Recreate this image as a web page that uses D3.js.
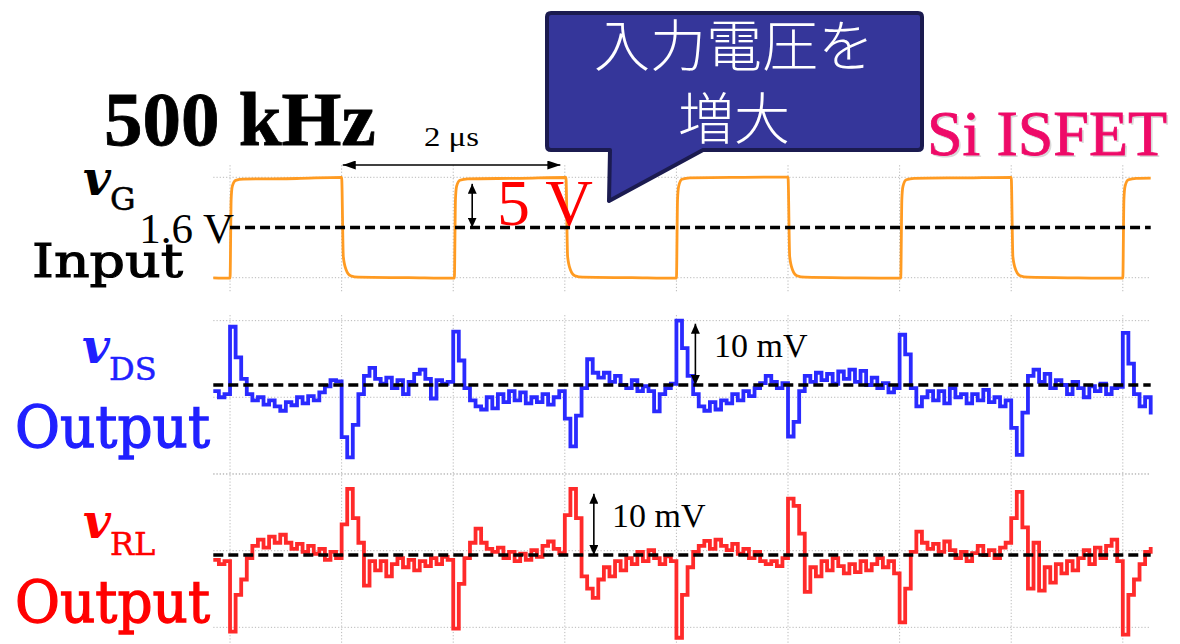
<!DOCTYPE html>
<html><head><meta charset="utf-8">
<script src="https://cdn.jsdelivr.net/npm/d3@7/dist/d3.min.js"></script>
<style>
html,body{margin:0;padding:0;background:#fff;overflow:hidden}
svg{display:block}
</style></head><body>
<svg id="chart" width="1180" height="644"></svg>
<script>
// ===== data (time in µs, 1 µs per oscilloscope division) =====
const gridTimes = [0, 1, 2, 3, 4, 5, 6, 7, 8];
const sampleStart = -0.15;   // µs, first sample of the output traces
const sampleStep = 0.05;     // µs between samples

// input gate voltage vG (V)
const vgTimes = [-0.15, 0.00, 0.01, 0.02, 0.05, 0.12, 0.60, 1.00, 1.015, 1.04, 1.08, 1.15, 1.60,
  2.01, 2.02, 2.03, 2.06, 2.13, 2.60, 3.01, 3.025, 3.05, 3.09, 3.16, 3.60,
  4.00, 4.01, 4.02, 4.05, 4.12, 4.60, 5.00, 5.015, 5.04, 5.08, 5.15, 5.60,
  6.01, 6.02, 6.03, 6.06, 6.13, 6.60, 7.00, 7.015, 7.04, 7.08, 7.15, 7.60,
  8.00, 8.01, 8.02, 8.05, 8.12, 8.25];
const vgValues = [-3.42, -3.45, 4.4, 5.7, 6.3, 6.42, 6.48, 6.6, -1.3, -2.6, -3.2, -3.35, -3.4,
  -3.45, 4.4, 5.7, 6.3, 6.45, 6.5, 6.58, -1.3, -2.6, -3.2, -3.35, -3.4,
  -3.45, 4.4, 5.7, 6.4, 6.55, 6.6, 6.62, -1.3, -2.6, -3.2, -3.35, -3.42,
  -3.45, 4.4, 5.7, 6.35, 6.5, 6.55, 6.6, -1.3, -2.6, -3.2, -3.35, -3.42,
  -3.45, 4.4, 5.7, 6.35, 6.5, 6.52];

// output vDS (mV, relative to its DC level)
const vdsValues = [-1.0, -2.0, -1.5,
  9.5, 4.5, 1.0, -1.5, -2.5, -2.0, -3.2, -2.5, -3.5, -4.2, -2.8, -3.3, -2.0, -3.0, -1.8, -2.5, -1.2, -0.2, 0.8, 0.6,
  -8.5, -11.8, -6.5, -1.5, 1.5, 2.8, 1.0, 0.2, 1.2, -0.5, 0.8, -1.5, 0.5, 1.8, 2.5, 1.0, -2.2, 0.8, 0.2, 0.5,
  8.7, 4.0, -0.5, -2.5, -3.5, -4.0, -2.0, -3.8, -1.5, -2.8, -1.0, -2.5, -1.2, -3.0, -2.0, -2.8, -1.5, -3.2, -2.0, -1.0,
  -5.5, -10.0, -5.0, -0.5, 4.2, 2.0, 1.2, 2.0, 0.5, 1.5, 0.0, -0.5, 0.8, -1.0, -0.2, -1.0, -4.3, -1.5, -0.5, 0.2,
  10.5, 6.0, 1.5, -1.5, -3.5, -4.2, -2.8, -4.0, -2.5, -3.0, -1.5, -2.5, -1.0, -1.8, -0.5, 0.3, 1.5, 0.5, -0.5, 0.3,
  -8.4, -6.0, -1.0, 1.5, 0.5, 2.0, 0.8, 1.8, 0.2, 2.2, 1.0, 2.5, 0.5, 2.3, 0.0, 1.2, -0.5, 0.3, -1.2, -0.5,
  8.2, 5.0, -0.5, -3.5, -2.0, -1.0, -2.5, -1.0, -3.0, -0.5, -2.0, -1.5, -3.0, -1.5, -2.5, -0.8, -2.8, -2.0, -3.5, -2.5,
  -7.0, -11.4, -4.5, 1.5, 2.5, 0.5, 1.8, -0.5, 0.8, 0.0, -1.5, 0.5, -0.5, -2.0, -0.2, -1.0, 0.2, -1.5, -0.5, -0.3,
  8.5, 3.5, -1.5, -3.5, -2.0, -4.8];

// output vRL (mV, relative to its DC level)
const vrlValues = [-0.8, -1.5, -1.0,
  -12.5, -6.5, -4.0, -0.5, 1.5, 2.5, 1.2, 3.0, 2.0, 3.3, 2.0, 1.0, 1.8, 0.5, 1.5, 0.2, 1.0, -0.8, 0.5, -0.5,
  5.0, 10.8, 6.0, 2.0, -5.0, -1.0, -2.5, -1.0, -3.5, -1.5, -0.5, -2.0, -0.8, -2.5, -1.0, -1.8, -0.5, -1.5, -0.3, -0.8,
  -12.0, -4.7, -0.5, 2.0, 4.3, 2.0, 1.0, 0.5, 1.2, -0.5, 0.5, -1.0, 0.2, -0.8, 0.8, -0.3, 1.5, 2.2, 1.0, 0.3,
  6.5, 10.8, 6.0, -3.5, -5.5, -7.0, -4.0, -2.0, -3.5, -1.0, -2.5, -0.5, -1.5, 0.5, -1.0, 0.8, -0.5, -1.5, -0.2, -1.0,
  -13.5, -6.5, -2.0, 0.5, 1.5, 2.3, 1.0, 2.5, 1.5, 0.8, 1.8, 0.2, 1.0, -0.5, 0.5, -1.0, -1.5, -1.0, -1.8, -0.5,
  9.2, 8.0, 3.5, -6.0, -2.0, -3.5, -1.0, -2.5, -0.5, -1.8, -3.0, -1.5, -2.8, -1.0, -2.5, -1.5, -0.5, -2.0, -1.0, -3.0,
  -11.0, -5.5, 0.5, 3.8, 2.0, 1.0, 1.8, 0.5, 2.2, 0.8, -0.5, 0.5, -1.0, 0.3, 1.5, 0.0, 0.8, -0.5, 1.2, 2.0,
  6.0, 10.3, 4.5, -5.5, 2.0, -5.8, -2.0, -4.5, -1.5, -3.0, -1.0, -2.5, -0.5, 0.8, -1.5, 1.2, -0.5, 1.5, 2.5, -1.0,
  -13.0, -6.5, -4.0, -1.5, 0.5, 1.3];

// reference levels and grid levels
const vgRef = 1.6;               // V
const vgGrid = [-3.4, 6.6];      // V
const dsGrid = [10.5, -2.0, -14.5]; // mV
const rlGrid = [13.2, 0.7, -11.8];  // mV

// ===== scales =====
const svg = d3.select("#chart");
const x = d3.scaleLinear().domain([-0.15, 8.25]).range([213.3, 1150.7]);
const yG = d3.scaleLinear().domain([-3.4, 6.6]).range([277.7, 177.3]);
const yDS = d3.scaleLinear().domain([0, 10]).range([385, 323.7]);
const yRL = d3.scaleLinear().domain([0, 10]).range([555, 493.7]);

const sampT = i => sampleStart + i * sampleStep;
const vg = vgTimes.map((t, i) => ({t, v: vgValues[i]}));
const ds = vdsValues.map((v, i) => ({t: sampT(i), v}));
const rl = vrlValues.map((v, i) => ({t: sampT(i), v}));

// ===== defs =====
const defs = svg.append("defs");
function marker(id, w, h) {
  defs.append("marker").attr("id", id).attr("viewBox", `0 0 ${w} ${h}`)
    .attr("refX", w).attr("refY", h / 2).attr("markerWidth", w).attr("markerHeight", h)
    .attr("markerUnits", "userSpaceOnUse").attr("orient", "auto-start-reverse")
    .append("path").attr("d", `M0,0 L${w},${h/2} L0,${h} Z`).attr("fill", "#000");
}
marker("ahH", 13, 9);
marker("ahV", 10, 9);

// ===== grids =====
const gridG = svg.append("g").attr("stroke", "#b8b8b8").attr("stroke-width", 1).attr("stroke-dasharray", "1.2,2");
gridG.selectAll(".vt").data(gridTimes).join("line")
  .attr("x1", d => x(d)).attr("x2", d => x(d)).attr("y1", yG(7.8)).attr("y2", yG(-4.85));
gridG.selectAll(".vb").data(gridTimes).join("line")
  .attr("x1", d => x(d)).attr("x2", d => x(d)).attr("y1", yDS(11.4)).attr("y2", 644);
gridG.selectAll(".hg").data(vgGrid).join("line")
  .attr("x1", x(-0.15)).attr("x2", x(8.25)).attr("y1", d => yG(d)).attr("y2", d => yG(d));
gridG.selectAll(".hd").data(dsGrid).join("line")
  .attr("x1", x(-0.15)).attr("x2", x(8.25)).attr("y1", d => yDS(d)).attr("y2", d => yDS(d));
gridG.selectAll(".hr").data(rlGrid).join("line")
  .attr("x1", x(-0.15)).attr("x2", x(8.25)).attr("y1", d => yRL(d)).attr("y2", d => yRL(d));

// ===== traces =====
svg.append("path").datum(vg)
  .attr("d", d3.line().x(d => x(d.t)).y(d => yG(d.v)).curve(d3.curveMonotoneX))
  .attr("fill", "none").attr("stroke", "#ff9b22").attr("stroke-width", 2.8);
svg.append("path").datum(ds)
  .attr("d", d3.line().x(d => x(d.t)).y(d => yDS(d.v)).curve(d3.curveStepAfter))
  .attr("fill", "none").attr("stroke", "#2a2aff").attr("stroke-width", 3.8);
svg.append("path").datum(rl)
  .attr("d", d3.line().x(d => x(d.t)).y(d => yRL(d.v)).curve(d3.curveStepAfter))
  .attr("fill", "none").attr("stroke", "#ff2a2a").attr("stroke-width", 3.8);

// ===== dashed reference lines =====
const dash = svg.append("g").attr("stroke", "#000").attr("stroke-width", 3.6).attr("stroke-dasharray", "10,5");
dash.append("line").attr("x1", x(0)).attr("x2", x(8.25)).attr("y1", yG(vgRef)).attr("y2", yG(vgRef));
dash.append("line").attr("x1", x(-0.15)).attr("x2", x(8.25)).attr("y1", yDS(0)).attr("y2", yDS(0));
dash.append("line").attr("x1", x(-0.15)).attr("x2", x(8.25)).attr("y1", yRL(0)).attr("y2", yRL(0));

// ===== annotation arrows =====
const arr = svg.append("g").attr("stroke", "#000").attr("stroke-width", 1.6);
arr.append("line").attr("x1", x(1.01)).attr("x2", x(2.96)).attr("y1", 165).attr("y2", 165)
  .attr("marker-start", "url(#ahH)").attr("marker-end", "url(#ahH)");
arr.append("line").attr("x1", x(2.17)).attr("x2", x(2.17)).attr("y1", yG(vgRef)).attr("y2", yG(5.95))
  .attr("marker-start", "url(#ahV)").attr("marker-end", "url(#ahV)");
arr.append("line").attr("x1", x(4.17)).attr("x2", x(4.17)).attr("y1", yDS(0)).attr("y2", yDS(10))
  .attr("marker-start", "url(#ahV)").attr("marker-end", "url(#ahV)");
arr.append("line").attr("x1", x(3.26)).attr("x2", x(3.26)).attr("y1", yRL(0)).attr("y2", yRL(10))
  .attr("marker-start", "url(#ahV)").attr("marker-end", "url(#ahV)");

// ===== texts =====
const serif = "'Liberation Serif', 'Times New Roman', serif";
const cent = "'DejaVu Serif', serif";
function txt(s, xx, yy, o) {
  const t = svg.append("text").attr("x", xx).attr("y", yy).text(s)
    .attr("font-family", o.ff || serif).attr("font-size", o.fs).attr("fill", o.fill || "#000");
  if (o.fw) t.attr("font-weight", o.fw);
  if (o.st) t.attr("font-style", o.st);
  if (o.anchor) t.attr("text-anchor", o.anchor);
  if (o.len) t.attr("textLength", o.len).attr("lengthAdjust", "spacingAndGlyphs");
  if (o.sw) t.attr("stroke", o.fill || "#000").attr("stroke-width", o.sw);
  return t;
}
txt("500 kHz", 104, 145, {fs: 77, fw: "bold", sw: 0.8});
txt("2 μs", 424, 146, {fs: 28, len: 55});
txt("5 V", 497, 225, {fs: 66, fill: "#ff0000"});
txt("10 mV", 714, 357, {fs: 34});
txt("10 mV", 612, 527, {fs: 34});
txt("1.6 V", 234, 243, {fs: 43, anchor: "end"});

// Si ISFET with soft shadow
txt("Si ISFET", 929, 157, {fs: 64, fill: "#c9c9c9"}).attr("opacity", 0.7);
txt("Si ISFET", 927, 155, {fs: 64, fill: "#ee0a68", sw: 0.8});

// channel labels
txt("v", 83, 195, {ff: cent, fs: 48, fw: "bold", st: "italic"});
txt("G", 110, 210, {ff: cent, fs: 32, sw: 0.5});
txt("Input", 32, 277, {ff: cent, fs: 46, len: 151, sw: 1.1});

txt("v", 82, 363, {ff: cent, fs: 48, fw: "bold", st: "italic", fill: "#2020ff"});
txt("DS", 109, 380, {ff: cent, fs: 32, fill: "#2020ff", sw: 0.5});
txt("Output", 15, 447, {ff: cent, fs: 58, len: 195, fill: "#2020ff", sw: 1.3});

txt("v", 83, 538, {ff: cent, fs: 48, fw: "bold", st: "italic", fill: "#ff0000"});
txt("RL", 110, 555, {ff: cent, fs: 32, fill: "#ff0000", sw: 0.5});
txt("Output", 15, 622, {ff: cent, fs: 58, len: 195, fill: "#ff0000", sw: 1.3});

// ===== callout =====
const co = svg.append("g");
co.append("path")
  .attr("d", "M551,13 H918 Q922,13 922,17 V146 Q922,150 918,150 H703 L609,201 L610,150 H551 Q547,150 547,146 V17 Q547,13 551,13 Z")
  .attr("fill", "#35369a").attr("stroke", "#1b1b50").attr("stroke-width", 4).attr("stroke-linejoin", "round");
const cjk = "'Noto Sans CJK JP', 'Noto Sans CJK SC', sans-serif";
txt("入力電圧を", 734, 66, {ff: cjk, fs: 56, fill: "#fff", anchor: "middle", fw: 300});
txt("増大", 734, 139, {ff: cjk, fs: 56, fill: "#fff", anchor: "middle", fw: 300});
</script>
</body></html>
